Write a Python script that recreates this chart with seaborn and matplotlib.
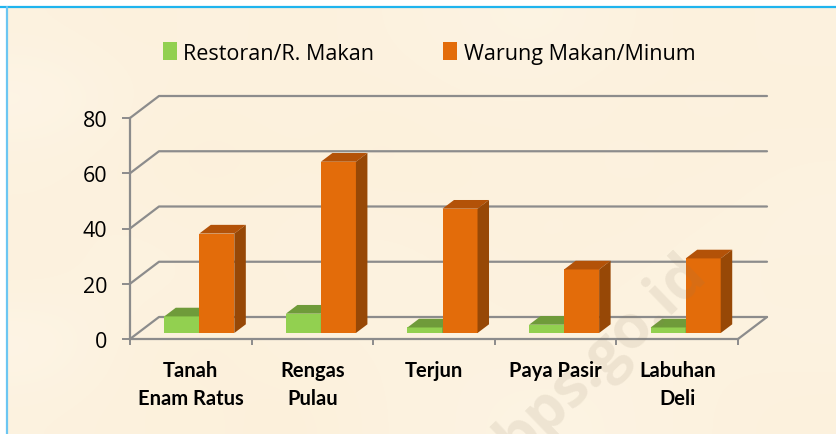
import matplotlib
matplotlib.use('Agg')
import matplotlib.pyplot as plt
import pandas as pd
import seaborn as sns
from matplotlib.colors import LinearSegmentedColormap
from matplotlib.patches import Polygon

# data
kecamatan = ['Tanah\nEnam Ratus', 'Rengas\nPulau', 'Terjun', 'Paya Pasir', 'Labuhan\nDeli']
restoran = [6, 7, 2, 3, 2]
warung = [36, 62, 45, 23, 27]
nama_seri = ['Restoran/R. Makan', 'Warung Makan/Minum']
y_ticks = [0, 20, 40, 60, 80]

# belang kertas latar (perkiraan, 0 = gelap, 1 = terang)
kertas = [
    [0.5, 0.4, 0.5, 0.4, 0.5, 0.6, 0.7, 0.5, 0.4, 0.5],
    [0.9, 0.5, 0.4, 0.5, 0.4, 0.5, 0.5, 0.4, 0.5, 0.4],
    [0.5, 0.4, 0.3, 0.4, 0.3, 0.4, 0.4, 0.5, 0.4, 0.5],
    [0.5, 0.5, 0.4, 0.5, 0.5, 0.4, 0.5, 0.4, 0.5, 0.6],
    [0.4, 0.6, 0.5, 0.4, 0.6, 0.5, 0.4, 0.5, 0.6, 0.5],
    [0.9, 0.4, 0.3, 0.5, 0.5, 0.6, 0.5, 0.6, 0.5, 0.6],
    [0.5, 0.4, 0.4, 0.3, 0.5, 0.6, 0.7, 0.6, 0.5, 0.4],
]

df = pd.DataFrame({
    'kecamatan': kecamatan * 2,
    'jenis': [nama_seri[0]] * 5 + [nama_seri[1]] * 5,
    'jumlah': restoran + warung,
})

W, H = 836, 435
GREY = '#8c8c8c'
warna_depan = {nama_seri[0]: '#92d050', nama_seri[1]: '#e36c0a'}
warna_atas = ['#6f9b3a', '#b35208']
warna_sisi = ['#5f8a2e', '#974806']

sns.set_theme(style='white')
plt.rcParams['font.family'] = ['Open Sans', 'DejaVu Sans']

fig = plt.figure(figsize=(W / 100, H / 100), dpi=100, facecolor='white')

# latar kertas + garis biru
ax_bg = fig.add_axes([7 / W, 0, 1 - 7 / W, 1 - 8 / H], zorder=-5)
cmap_kertas = LinearSegmentedColormap.from_list('kertas', ['#fbeed4', '#fef6ea'])
ax_bg.imshow(kertas, cmap=cmap_kertas, vmin=0, vmax=1, aspect='auto', interpolation='bicubic')
ax_bg.axis('off')
fig.add_artist(plt.Line2D([0, 1], [1 - 8 / H] * 2, color='#1fb4ee', lw=1.6))
fig.add_artist(plt.Line2D([7 / W] * 2, [1 - 8 / H, 0], color='#6cc6f2', lw=1.6))

ax = fig.add_axes([130 / W, (H - 340) / H, 608 / W, 221 / H])
ax.patch.set_alpha(0)

sns.barplot(data=df, x='kecamatan', y='jumlah', hue='jenis', palette=warna_depan,
            width=0.576, gap=0, saturation=1, linewidth=0, edgecolor='none', ax=ax, zorder=4)
ax.set_xlim(-0.5, 4.5)
ax.set_ylim(0, 80)
ax.set_xlabel('')
ax.set_ylabel('')

# kedalaman 3D, dalam satuan data
px_x = 5 / 608
px_y = 80 / 221
dx_dinding, dy_dinding = 29 * px_x, 22 * px_y
dx_geser, dy_geser = 8.5 * px_x, 6 * px_y
dx_bar, dy_bar = 11.5 * px_x, 8.7 * px_y

# dinding belakang dan lantai
for t in y_ticks:
    ax.plot([-0.5, -0.5 + dx_dinding, 4.5 + dx_dinding], [t, t + dy_dinding, t + dy_dinding],
            color=GREY, lw=1.6, clip_on=False, zorder=1, solid_joinstyle='round')
ax.plot([4.5, 4.5 + dx_dinding], [0, dy_dinding], color=GREY, lw=1.6, clip_on=False, zorder=1)

# sisi atas dan samping tiap batang
for i, cont in enumerate(ax.containers):
    for bar in cont:
        bar.set_x(bar.get_x() + dx_geser)
        bar.set_y(dy_geser)
        bar.set_clip_on(False)
        bar.set_zorder(3 + i * 2)
        x0, x1 = bar.get_x(), bar.get_x() + bar.get_width()
        y0, y1 = dy_geser, dy_geser + bar.get_height()
        ax.add_patch(Polygon([(x0, y1), (x1, y1), (x1 + dx_bar, y1 + dy_bar), (x0 + dx_bar, y1 + dy_bar)],
                             closed=True, facecolor=warna_atas[i], edgecolor='none',
                             clip_on=False, zorder=3 + i * 2))
        ax.add_patch(Polygon([(x1, y0), (x1 + dx_bar, y0 + dy_bar), (x1 + dx_bar, y1 + dy_bar), (x1, y1)],
                             closed=True, facecolor=warna_sisi[i], edgecolor='none',
                             clip_on=False, zorder=3 + i * 2))

# sumbu
sns.despine(ax=ax)
for s in ['left', 'bottom']:
    ax.spines[s].set_color(GREY)
    ax.spines[s].set_linewidth(1.6)
ax.set_yticks(y_ticks)
ax.tick_params(axis='y', length=5.8, width=1.4, color=GREY, left=True, labelsize=15.5, labelcolor='black', pad=10.5)
ax.set_xticks(range(5))
ax.set_xticklabels(kecamatan, fontfamily=['Lato', 'DejaVu Sans'], fontweight='bold', fontsize=14.5, linespacing=1.5)
ax.set_xticks([-0.5, 0.5, 1.5, 2.5, 3.5, 4.5], minor=True)
ax.tick_params(axis='x', which='major', length=0, pad=15, labelcolor='black')
ax.tick_params(axis='x', which='minor', length=4, width=1.4, color=GREY, bottom=True)

handles, labels = ax.get_legend_handles_labels()
ax.legend(handles, labels, ncols=2, loc='center', bbox_to_anchor=(429 / W, 1 - 54 / H),
          bbox_transform=fig.transFigure, frameon=False, fontsize=15.5, handlelength=0.65,
          handleheight=0.85, handletextpad=0.3, columnspacing=3.2, labelcolor='black')

# watermark
fig.text(708 / W, 1 - 276 / H, 'bps.go.id', rotation=44, ha='right', va='baseline',
         rotation_mode='anchor', fontsize=43, fontweight='bold', color='#8a7a60', alpha=0.12, zorder=10)

fig.savefig('out.png', dpi=100)
